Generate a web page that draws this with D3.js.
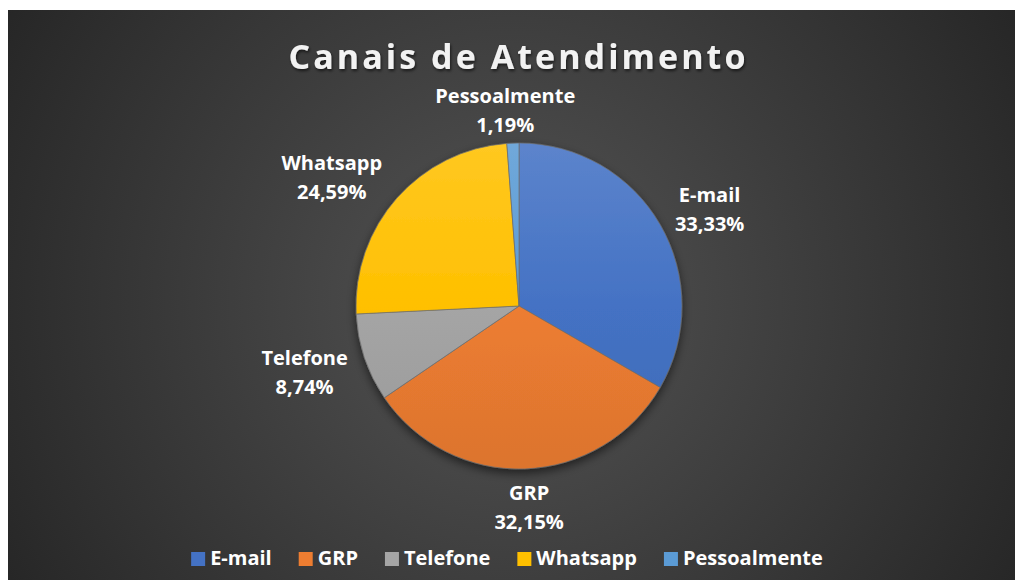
<!DOCTYPE html>
<html>
<head>
<meta charset="utf-8">
<script src="https://cdn.jsdelivr.net/npm/d3@7"></script>
<style>
  body { margin: 0; background: #fff; }
  svg { display: block; }
</style>
</head>
<body>
<svg width="1015" height="580"></svg>
<script>
// dados do grafico
var chartTitle = "Canais de Atendimento";
var categories = ["E-mail", "GRP", "Telefone", "Whatsapp", "Pessoalmente"];
var values = [33.33, 32.15, 8.74, 24.59, 1.19];
var colors = ["#4472C4", "#ED7D31", "#A5A5A5", "#FFC000", "#5B9BD5"];

var svg = d3.select("svg"),
    width = +svg.attr("width"),
    height = +svg.attr("height"),
    area = {x: 8, y: 10, w: width - 8, h: height - 10},
    cx = 519, cy = 306, r = 163;

var font = "'Open Sans', Lato, sans-serif";
var ptBR = d3.formatLocale({decimal: ",", thousands: ".", grouping: [3], currency: ["R$", ""]});
var fmt = ptBR.format(".2f");

var defs = svg.append("defs");

var bg = defs.append("radialGradient").attr("id", "bg")
    .attr("gradientUnits", "userSpaceOnUse")
    .attr("cx", 512).attr("cy", 300).attr("r", 600);
bg.append("stop").attr("offset", "0%").attr("stop-color", "#545454");
bg.append("stop").attr("offset", "100%").attr("stop-color", "#252525");

var shadow = defs.append("filter").attr("id", "pieShadow")
    .attr("x", "-20%").attr("y", "-20%").attr("width", "140%").attr("height", "140%");
shadow.append("feDropShadow").attr("dx", 0).attr("dy", 4).attr("stdDeviation", 5)
    .attr("flood-color", "#000").attr("flood-opacity", 0.55);

var tshadow = defs.append("filter").attr("id", "titleShadow")
    .attr("x", "-10%").attr("y", "-30%").attr("width", "120%").attr("height", "160%");
tshadow.append("feDropShadow").attr("dx", 1).attr("dy", 2).attr("stdDeviation", 1.5)
    .attr("flood-color", "#000").attr("flood-opacity", 0.6);

// gradiente de cada fatia (coordenadas relativas ao centro da pizza)
colors.forEach(function(c, i) {
  var lg = defs.append("linearGradient").attr("id", "slice" + i)
      .attr("gradientUnits", "userSpaceOnUse")
      .attr("x1", 0).attr("y1", -r).attr("x2", 0).attr("y2", r);
  lg.append("stop").attr("offset", "0%").attr("stop-color", d3.interpolateRgb(c, "#fff")(0.13));
  lg.append("stop").attr("offset", "50%").attr("stop-color", c);
  lg.append("stop").attr("offset", "100%").attr("stop-color", d3.interpolateRgb(c, "#000")(0.07));
});

svg.append("rect")
    .attr("x", area.x).attr("y", area.y)
    .attr("width", area.w).attr("height", area.h)
    .attr("fill", "url(#bg)");

// titulo
var title = svg.append("text")
    .attr("x", 517).attr("y", 69)
    .attr("text-anchor", "middle")
    .attr("fill", "#F2F2F2")
    .attr("filter", "url(#titleShadow)")
    .style("font", "bold 34px " + font)
    .text(chartTitle);
// espaçamento das letras para a largura do original
var tw = title.node().getComputedTextLength();
var sp = (460 - tw) / (chartTitle.length);
title.style("letter-spacing", sp + "px").attr("x", 517 + sp / 2);

// pizza
var pie = d3.pie().sort(null).value(function(d) { return d; });
var arcs = pie(values);
var arc = d3.arc().innerRadius(0).outerRadius(r);

var g = svg.append("g").attr("transform", "translate(" + cx + "," + cy + ")");

g.append("g").attr("filter", "url(#pieShadow)")
  .selectAll("path")
  .data(arcs)
  .enter().append("path")
    .attr("d", arc)
    .attr("fill", function(d, i) { return "url(#slice" + i + ")"; })
    .attr("stroke", "#6e6e6e")
    .attr("stroke-width", 0.7);

// rotulos fora da pizza
var lineH = 29, fontSize = 20, distX = 176, distY = 199;
var labels = g.selectAll(".lbl")
  .data(arcs)
  .enter().append("text")
    .attr("class", "lbl")
    .attr("text-anchor", "middle")
    .attr("fill", "#fff")
    .style("font", "bold " + fontSize + "px " + font);

labels.append("tspan").attr("x", 0).attr("dy", 0)
    .text(function(d, i) { return categories[i]; });
labels.append("tspan").attr("x", 0).attr("dy", lineH)
    .text(function(d) { return fmt(d.data) + "%"; });

labels.each(function(d) {
  var bb = this.getBBox();
  var a = (d.startAngle + d.endAngle) / 2;
  var sx = Math.sin(a), sy = -Math.cos(a);
  var kx = Math.max(-1, Math.min(1, sx * 2.5));
  var px = sx * distX + kx * bb.width / 2 * 1.1;
  var py = sy * distY;
  d3.select(this).selectAll("tspan").attr("x", px);
  d3.select(this).attr("y", py - 4.5);
});

// legenda
var legend = svg.append("g");
var items = legend.selectAll("g")
  .data(categories)
  .enter().append("g");

items.append("rect")
    .attr("width", 14).attr("height", 14)
    .attr("y", -13)
    .attr("fill", function(d, i) { return colors[i]; });

items.append("text")
    .attr("x", 19)
    .attr("fill", "#fff")
    .style("font", "bold " + fontSize + "px " + font)
    .text(function(d) { return d; });

var xpos = 0, itemGap = 27;
items.each(function() {
  var w = this.getBBox().width;
  d3.select(this).attr("transform", "translate(" + xpos + ",0)");
  xpos += w + itemGap;
});
var total = xpos - itemGap;
legend.attr("transform", "translate(" + (507 - total / 2) + ",565)");
</script>
</body>
</html>
